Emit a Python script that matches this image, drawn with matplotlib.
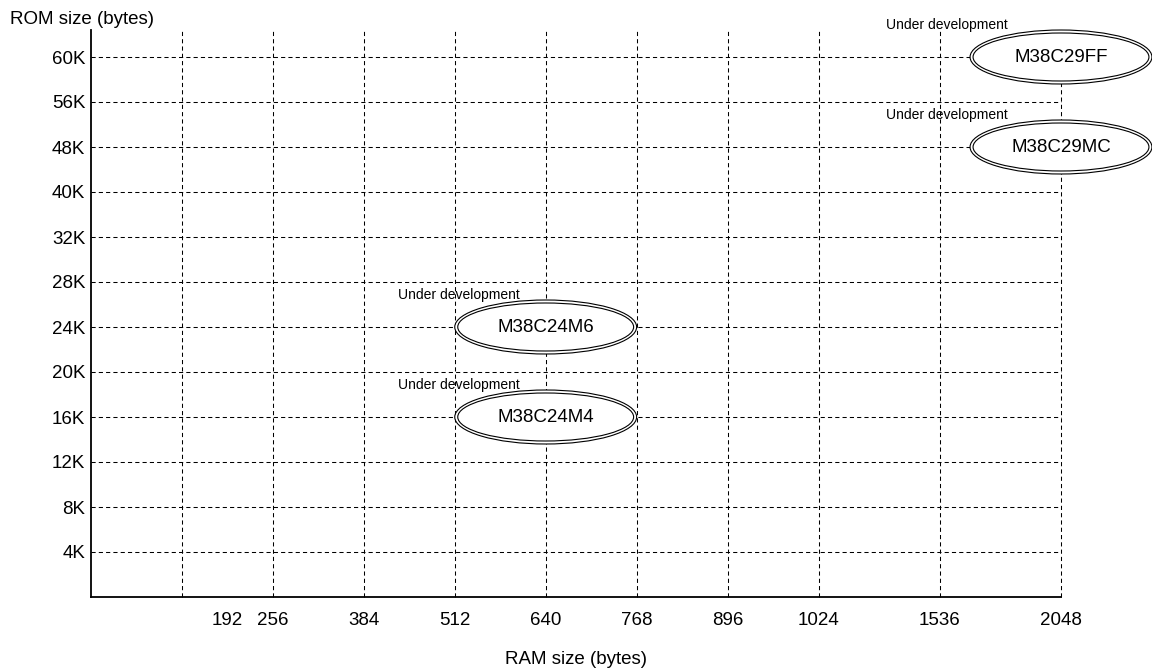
import matplotlib
matplotlib.use('Agg')
import matplotlib.pyplot as plt
from matplotlib.patches import Ellipse

plt.rcParams['font.family'] = ['Liberation Sans', 'DejaVu Sans']

# RAM sizes (bytes): gridlines and labelled ticks
ram_grid = [128, 256, 384, 512, 640, 768, 896, 1024, 1536, 2048]
ram_labels = [192, 256, 384, 512, 640, 768, 896, 1024, 1536, 2048]

# ROM sizes (K bytes)
rom_ticks = [4, 8, 12, 16, 20, 24, 28, 32, 40, 48, 56, 60]

# products
names = ['M38C24M6', 'M38C24M4', 'M38C29FF', 'M38C29MC']
ram = [640, 640, 2048, 2048]
rom = [24, 16, 60, 48]
status = ['Under development'] * 4


def xpos(v):
    # linear up to 1024, wider steps afterwards
    if v <= 1024:
        return v / 128
    return 8 + (v - 1024) / 384


def ypos(v):
    return rom_ticks.index(v) + 1


fig = plt.figure(figsize=(11.52, 6.70), dpi=100)
ax = fig.add_axes([91 / 1152, 73 / 670, 970 / 1152, 567 / 670])
ax.set_xlim(0, xpos(2048))
ax.set_ylim(0, 12.6)

for s in ['top', 'right']:
    ax.spines[s].set_visible(False)
for s in ['left', 'bottom']:
    ax.spines[s].set_linewidth(1.3)

dash = (0, (4, 3))
for v in ram_grid:
    ax.axvline(xpos(v), color='black', lw=0.75, ls=dash, zorder=1, clip_on=False)
for v in rom_ticks:
    ax.axhline(ypos(v), color='black', lw=0.75, ls=dash, zorder=1, clip_on=False)

ax.set_xticks([xpos(v) for v in ram_labels])
ax.set_xticklabels([str(v) for v in ram_labels], fontsize=13.5)
ax.set_yticks([ypos(v) for v in rom_ticks])
ax.set_yticklabels([f'{v}K' for v in rom_ticks], fontsize=13.5)
ax.tick_params(axis='x', length=0, pad=11)
ax.tick_params(axis='y', length=0, pad=4)

# small tick for 192
ax.set_xticks([xpos(192)], minor=True)
ax.tick_params(axis='x', which='minor', direction='in', length=4.5, width=1)

# double-outlined ellipses
w_out, h_out = 2.0, 1.2
gap_x, gap_y = 6 / 90.9, 6 / 45
note_dx = [-148, -148, -175, -175]  # pixels from ellipse centre
for i in range(len(names)):
    cx, cy = xpos(ram[i]), ypos(rom[i])
    ax.add_patch(Ellipse((cx, cy), w_out, h_out, facecolor='white',
                         edgecolor='black', lw=0.8, zorder=3, clip_on=False))
    ax.add_patch(Ellipse((cx, cy), w_out - gap_x, h_out - gap_y, facecolor='none',
                         edgecolor='black', lw=0.8, zorder=4, clip_on=False))
    ax.text(cx, cy, names[i], ha='center', va='center', fontsize=13.5, zorder=5)
    ax.annotate(status[i], (cx, cy), xytext=(note_dx[i] * 0.72, 28 * 0.72),
                textcoords='offset points', ha='left', va='baseline',
                fontsize=10, zorder=5, annotation_clip=False)

fig.text(10 / 1152, 1 - 20 / 670, 'ROM size (bytes)', ha='left', va='center', fontsize=13.5)
fig.text(576 / 1152, 1 - 660 / 670, 'RAM size (bytes)', ha='center', va='center', fontsize=13.5)

fig.savefig('out.png', dpi=100)
